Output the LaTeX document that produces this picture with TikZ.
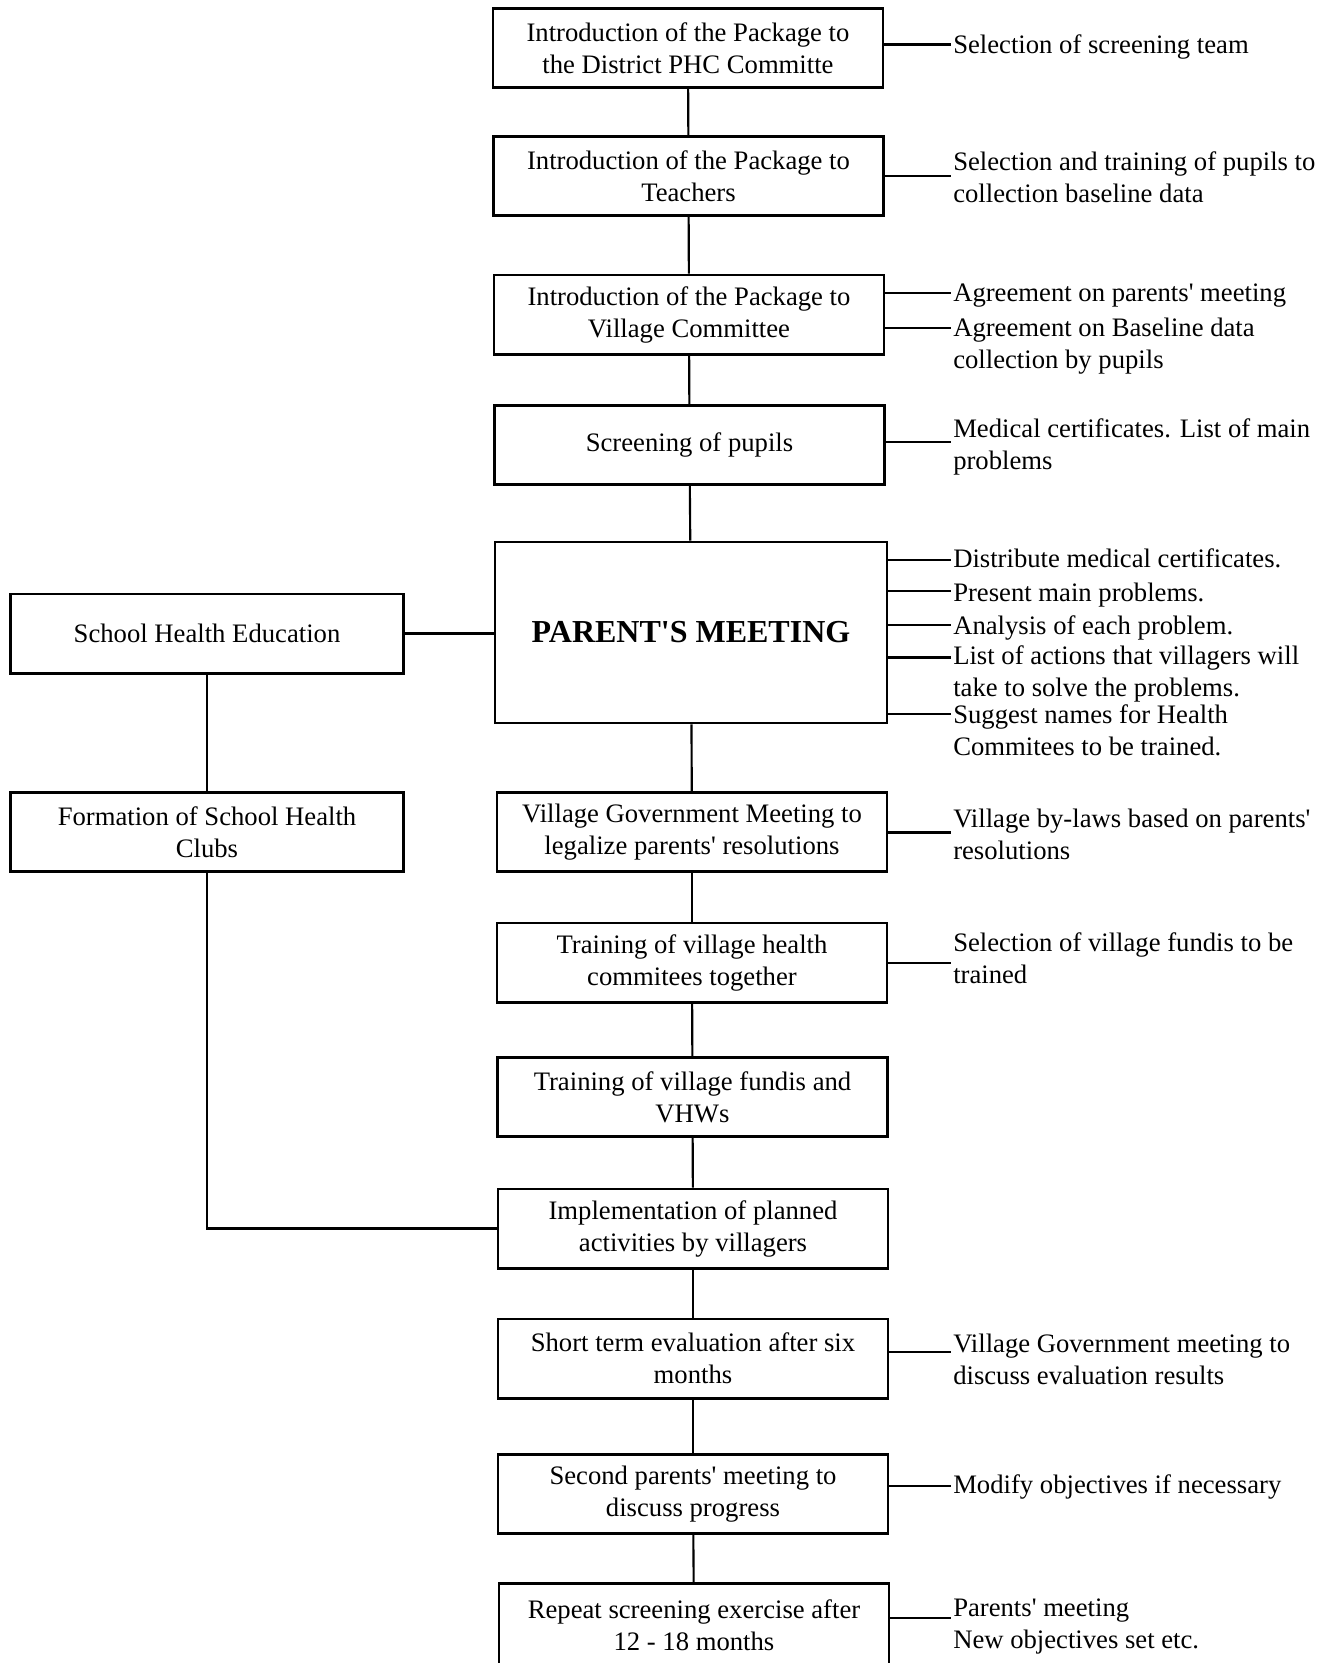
\documentclass[tikz,border=0pt]{standalone}
\usepackage{fontspec}
\setmainfont{Liberation Serif}
\newcommand{\ap}{\textquotesingle}
\begin{document}
\begin{tikzpicture}[x=0.75pt,y=-0.75pt,
  txt/.style={font=\fontsize{20}{24}\selectfont},
  box/.style={draw, line width=2pt, align=center, minimum width=292.5pt, minimum height=59.5pt, inner sep=2pt, txt},
  lab/.style={anchor=base west, align=left, inner sep=0pt, txt},
  con/.style={line width=1.6pt}]
\useasboundingbox (0,0) rectangle (1333,1663);
\clip (0,0) rectangle (1333,1663);
% main column
\node[box] (b1) at (688,48) {Introduction of the Package to\\the District PHC Committe};
\node[box] (b2) at (688.5,176) {Introduction of the Package to\\Teachers};
\node[box] (b3) at (689,314.5) {Introduction of the Package to\\Village Committee};
\node[box] (b4) at (689.5,445) {Screening of pupils};
\node[box, minimum width=294pt, minimum height=135.75pt, font=\fontsize{24}{28}\selectfont\bfseries] (b5) at (691,632.5) {PARENT\ap S MEETING};
\node[box] (b6) at (692,832) {Village Government Meeting to\\legalize parents\ap{} resolutions};
\node[box] (b7) at (692,962.5) {Training of village health\\commitees together};
\node[box] (b8) at (692.5,1097) {Training of village fundis and\\VHWs};
\node[box] (b9) at (693,1228.5) {Implementation of planned\\activities by villagers};
\node[box] (b10) at (693,1358.5) {Short term evaluation after six\\months};
\node[box] (b11) at (693,1494) {Second parents\ap{} meeting to\\discuss progress};
\node[box, minimum height=62pt] (b12) at (694,1625) {Repeat screening exercise after\\12 - 18 months};
% left column
\node[box, minimum width=294.75pt] (she) at (207,633.5) {School Health Education};
\node[box, minimum width=294.75pt] (shc) at (207,832) {Formation of School Health\\Clubs};
% vertical connectors
\draw[con] (b1) -- (b2);
\draw[con] (b2) -- (b3);
\draw[con] (b3) -- (b4);
\draw[con] (b4) -- (b5);
\draw[con] (b5) -- (b6);
\draw[con] (b6) -- (b7);
\draw[con] (b7) -- (b8);
\draw[con] (b8) -- (b9);
\draw[con] (b9) -- (b10);
\draw[con] (b10) -- (b11);
\draw[con] (b11) -- (b12);
\draw[con] (she) -- (b5.west |- she.east);
\draw[con] (she) -- (shc);
\draw[con] (shc.south) |- (b9.west);
% right labels (base = last line's baseline)
\node[lab] (l1) at (953,53) {Selection of screening team};
\node[lab] (l2) at (953,202) {Selection and training of pupils to\\collection baseline data};
\node[lab] (l3a) at (953,301) {Agreement on parents\ap{} meeting};
\node[lab] (l3b) at (953,368) {Agreement on Baseline data\\collection by pupils};
\node[lab] (l4) at (953,469) {Medical certificates. List of main\\problems};
\node[lab] (l5a) at (953,567) {Distribute medical certificates.};
\node[lab] (l5b) at (953,601) {Present main problems.};
\node[lab] (l5c) at (953,634) {Analysis of each problem.};
\node[lab] (l5d) at (953,696.5) {List of actions that villagers will\\take to solve the problems.};
\node[lab] (l5e) at (953,755) {Suggest names for Health\\Commitees to be trained.};
\node[lab] (l6) at (953,859) {Village by-laws based on parents\ap\\resolutions};
\node[lab] (l7) at (953,983) {Selection of village fundis to be\\trained};
\node[lab] (l10) at (953,1384) {Village Government meeting to\\discuss evaluation results};
\node[lab] (l11) at (953,1493) {Modify objectives if necessary};
\node[lab] (l12) at (953,1648) {Parents\ap{} meeting\\New objectives set etc.};
% stub ends
\coordinate (s1) at (951,44.5);
\coordinate (s2) at (951,176);
\coordinate (s3a) at (951,292.7);
\coordinate (s3b) at (951,327.7);
\coordinate (s4) at (951,442);
\coordinate (s5a) at (951,560);
\coordinate (s5b) at (951,590.7);
\coordinate (s5c) at (951,624.6);
\coordinate (s5d) at (951,657.5);
\coordinate (s5e) at (951,713.7);
\coordinate (s6) at (951,832.5);
\coordinate (s7) at (951,963);
\coordinate (s10) at (951,1352);
\coordinate (s11) at (951,1485.7);
\coordinate (s12) at (951,1618);
\foreach \b/\s in {b1/s1,b2/s2,b3/s3a,b3/s3b,b4/s4,b5/s5a,b5/s5b,b5/s5c,b5/s5d,b5/s5e,b6/s6,b7/s7,b10/s10,b11/s11,b12/s12}
  \draw[con] (\b.east |- \s) -- (\s);
\end{tikzpicture}
\end{document}
